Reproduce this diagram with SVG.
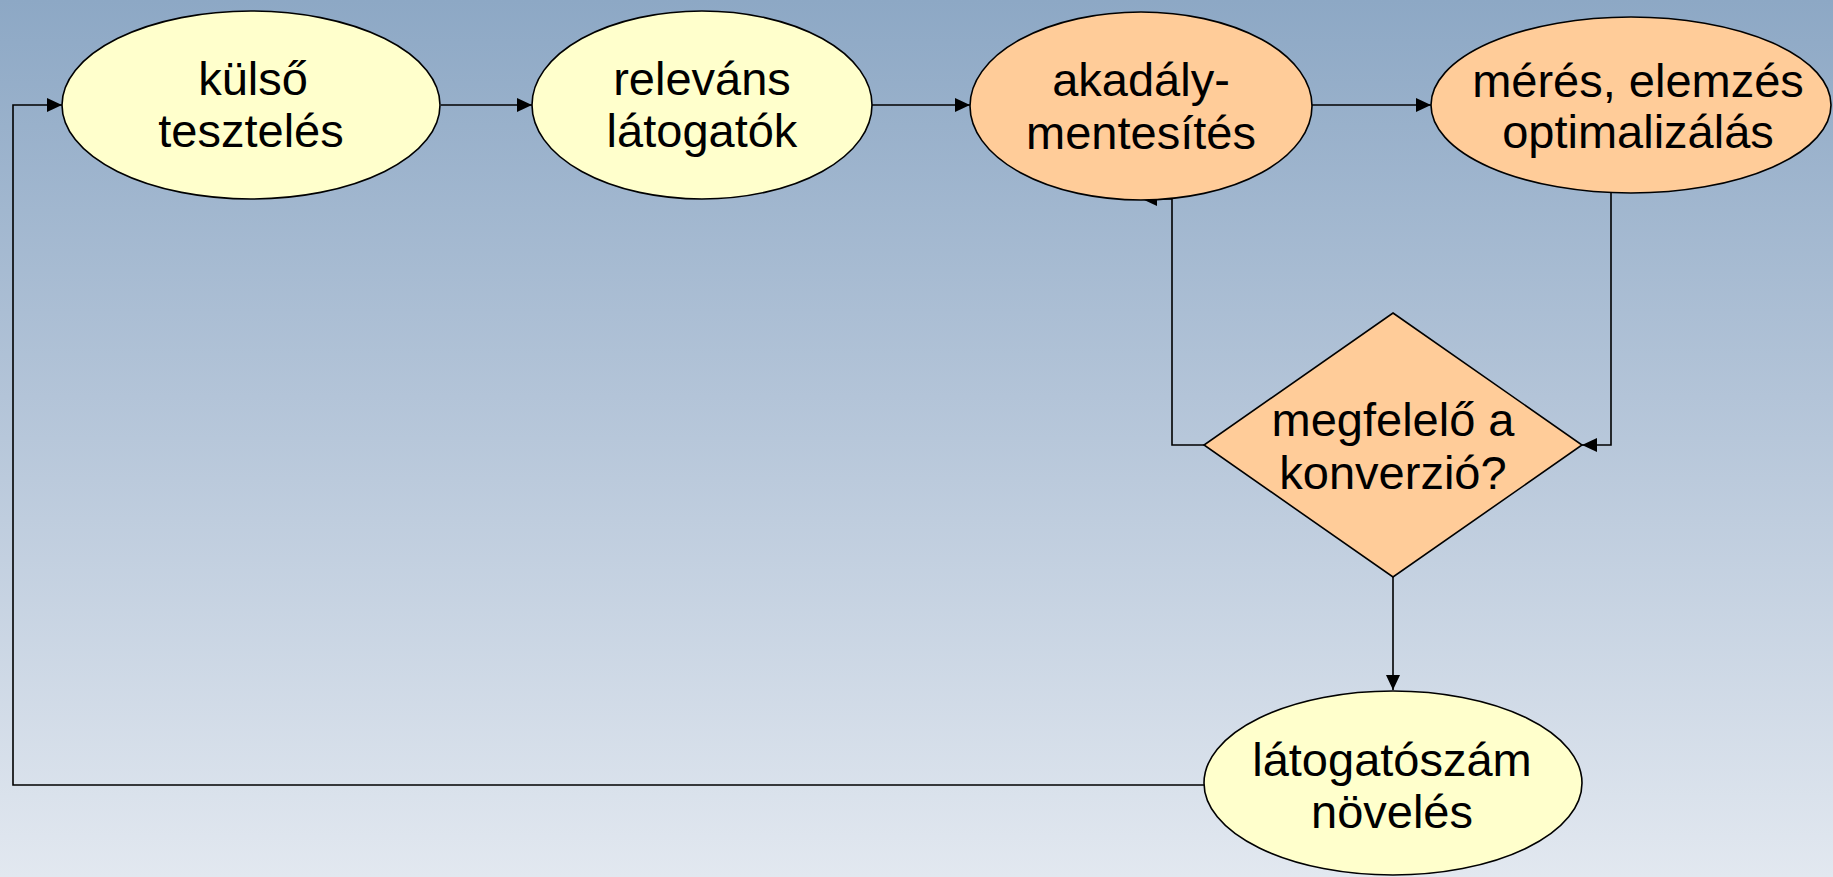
<svg xmlns="http://www.w3.org/2000/svg" width="1833" height="877" viewBox="0 0 1833 877">
<defs>
<linearGradient id="bg" x1="0" y1="0" x2="0" y2="1">
<stop offset="0" stop-color="#8DA8C5"/>
<stop offset="0.5" stop-color="#B7C7DA"/>
<stop offset="1" stop-color="#E2E8F0"/>
</linearGradient>
<marker id="arr" markerUnits="userSpaceOnUse" markerWidth="16" markerHeight="14" refX="15" refY="7" orient="auto">
<path d="M0,0 L15,7 L0,14 z" fill="#000"/>
</marker>
<style>
.n{stroke:#000;stroke-width:1.6}
.y{fill:#FFFFCC}
.o{fill:#FFCC99}
.t{font-family:"Liberation Sans",Arial,sans-serif;font-size:47px;fill:#000;text-anchor:middle}
.c{fill:none;stroke:#000;stroke-width:1.6;marker-end:url(#arr)}
</style>
</defs>
<rect x="0" y="0" width="1833" height="877" fill="url(#bg)"/>
<g id="connectors">
<path class="c" d="M441,105 H532"/>
<path class="c" d="M872,105 H970"/>
<path class="c" d="M1312,105 H1431"/>
<path class="c" d="M1204,445 H1172 V199 H1142"/>
<path class="c" d="M1611,193 V445 H1582"/>
<path class="c" d="M1393,577 V690"/>
<path class="c" d="M1204,785 H13 V105 H62"/>
</g>
<g id="n1">
<ellipse class="n y" cx="251" cy="105" rx="189" ry="94"/>
<text class="t" x="253" y="95">külső</text>
<text class="t" x="251" y="147">tesztelés</text>
</g>
<g id="n2">
<ellipse class="n y" cx="702" cy="105" rx="170" ry="94"/>
<text class="t" x="702" y="95">releváns</text>
<text class="t" x="702" y="147">látogatók</text>
</g>
<g id="n3">
<ellipse class="n o" cx="1141" cy="106" rx="171" ry="94"/>
<text class="t" x="1141" y="96">akadály-</text>
<text class="t" x="1141" y="149">mentesítés</text>
</g>
<g id="n4">
<ellipse class="n o" cx="1631" cy="105" rx="200" ry="88"/>
<text class="t" x="1638" y="97">mérés, elemzés</text>
<text class="t" x="1638" y="148">optimalizálás</text>
</g>
<g id="n5">
<polygon class="n o" points="1393,313 1582,445 1393,577 1204,445"/>
<text class="t" x="1393" y="436">megfelelő a</text>
<text class="t" x="1393" y="489">konverzió?</text>
</g>
<g id="n6">
<ellipse class="n y" cx="1393" cy="783" rx="189" ry="92"/>
<text class="t" x="1392" y="776">látogatószám</text>
<text class="t" x="1392" y="828">növelés</text>
</g>
</svg>
